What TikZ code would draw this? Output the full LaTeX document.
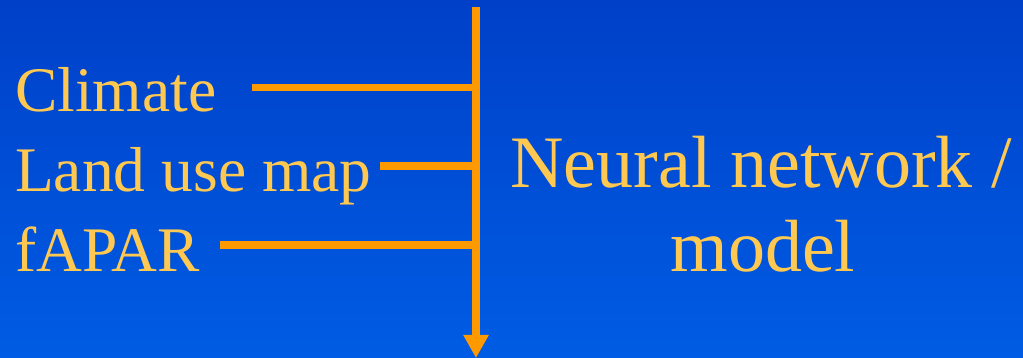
\documentclass[tikz,border=0pt]{standalone}
\usepackage{fontspec}
\setmainfont{Liberation Serif}
\usetikzlibrary{arrows.meta}
\definecolor{bgtop}{HTML}{0040C8}
\definecolor{bgbot}{HTML}{005CE4}
\definecolor{txt}{HTML}{FFC850}
\definecolor{ln}{HTML}{FF9900}
\begin{document}
\begin{tikzpicture}[x=1pt,y=1pt,
  lbl/.style={inner sep=0pt, anchor=base west, text=txt, font=\fontsize{63.5}{64}\selectfont},
  big/.style={inner sep=0pt, anchor=base, text=txt, font=\fontsize{74}{74}\selectfont},
  conn/.style={draw=ln, line width=7.5pt}]
\shade[top color=bgtop, bottom color=bgbot] (0,0) rectangle (1023,358);
\useasboundingbox (0,0) rectangle (1023,358);
\node[lbl] (climate) at (15,246) {Climate};
\node[lbl] (land) at (15,166) {Land use map};
\node[lbl] (fapar) at (15,86) {fAPAR};
\node[big] (nn) at (761,170) {Neural network /};
\node[big] (model) at (763,86) {model};
\coordinate (top) at (476,351);
\coordinate (bot) at (476,0);
\coordinate (c1) at (252,270.5);
\coordinate (j1) at (476,270.5);
\coordinate (c2) at (380,192);
\coordinate (j2) at (476,192);
\coordinate (c3) at (220,113);
\coordinate (j3) at (476,113);
\draw[conn, -{Triangle[width=24pt,length=23pt]}] (top) -- (bot);
\draw[conn] (c1) -- (j1);
\draw[conn] (c2) -- (j2);
\draw[conn] (c3) -- (j3);
\end{tikzpicture}
\end{document}
